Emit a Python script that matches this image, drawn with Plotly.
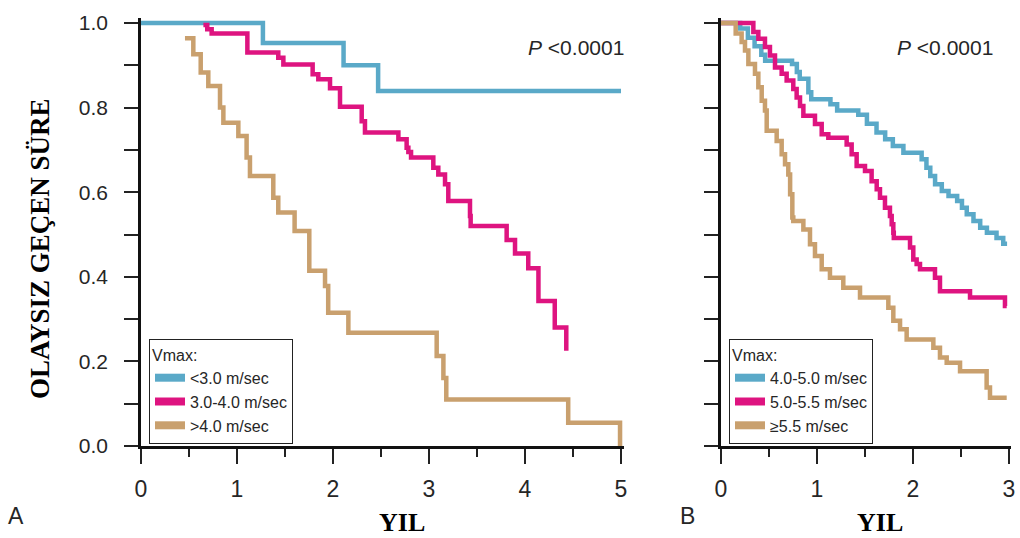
import plotly.graph_objects as go

# ---------------- Data ----------------
# Panel A
a_low_t = [0, 1.27, 2.11, 2.47, 5.0]
a_low_s = [1.0, 0.953, 0.90, 0.839, 0.839]

a_mid_t = [0.65, 0.69, 0.736, 1.108, 1.43, 1.483, 1.788, 1.847, 1.969, 2.073, 2.299, 2.333,
           2.681, 2.767, 2.785, 2.813, 3.045, 3.097, 3.167, 3.201, 3.427, 3.434, 3.809,
           3.896, 4.034, 4.14, 4.31, 4.43]
a_mid_s = [0.995, 0.985, 0.975, 0.930, 0.918, 0.902, 0.879, 0.867, 0.846, 0.802, 0.768, 0.741,
           0.725, 0.705, 0.695, 0.682, 0.658, 0.642, 0.619, 0.579, 0.544, 0.520, 0.487,
           0.455, 0.420, 0.343, 0.280, 0.225]

a_high_t = [0.458, 0.545, 0.622, 0.701, 0.823, 0.858, 1.014, 1.10, 1.135, 1.378, 1.43, 1.60,
            1.753, 1.917, 1.95, 2.16, 3.08, 3.15, 3.18, 4.45, 4.99]
a_high_s = [0.964, 0.926, 0.883, 0.851, 0.800, 0.764, 0.733, 0.682, 0.638, 0.587, 0.552, 0.508,
            0.414, 0.378, 0.315, 0.268, 0.213, 0.161, 0.110, 0.055, 0.0]

# Panel B
b_low_t = [0, 0.20, 0.28, 0.35, 0.42, 0.46, 0.74, 0.79, 0.82, 0.91, 0.94, 1.14, 1.21, 1.43,
           1.52, 1.62, 1.71, 1.79, 1.90, 2.09, 2.14, 2.18, 2.23, 2.30, 2.37, 2.46, 2.51, 2.56,
           2.63, 2.70, 2.77, 2.87, 2.94, 2.98]
b_low_s = [1.0, 0.987, 0.965, 0.945, 0.925, 0.911, 0.903, 0.884, 0.868, 0.836, 0.820, 0.808,
           0.793, 0.783, 0.762, 0.741, 0.725, 0.709, 0.693, 0.678, 0.658, 0.638, 0.619, 0.603,
           0.591, 0.579, 0.563, 0.548, 0.532, 0.516, 0.504, 0.492, 0.478, 0.478]

b_mid_t = [0, 0.337, 0.389, 0.458, 0.51, 0.5625, 0.632, 0.684, 0.753, 0.788, 0.823, 0.858,
           0.979, 1.049, 1.118, 1.309, 1.361, 1.413, 1.50, 1.569, 1.622, 1.656, 1.708, 1.76,
           1.778, 1.795, 1.80, 1.969, 2.003, 2.038, 2.073, 2.229, 2.281, 2.594, 2.958, 2.976]
b_mid_s = [1.0, 0.979, 0.963, 0.943, 0.923, 0.895, 0.880, 0.864, 0.844, 0.824, 0.804, 0.781,
           0.761, 0.737, 0.729, 0.713, 0.690, 0.662, 0.650, 0.626, 0.607, 0.587, 0.563, 0.544,
           0.524, 0.504, 0.492, 0.469, 0.441, 0.430, 0.418, 0.398, 0.366, 0.351, 0.331, 0.331]

b_high_t = [0, 0.153, 0.215, 0.25, 0.285, 0.354, 0.389, 0.424, 0.458, 0.476, 0.58, 0.632,
            0.667, 0.701, 0.72, 0.743, 0.753, 0.858, 0.927, 0.979, 1.049, 1.135, 1.274, 1.448,
            1.743, 1.795, 1.865, 1.934, 2.212, 2.281, 2.351, 2.49, 2.767, 2.802, 2.976]
b_high_s = [1.0, 0.975, 0.955, 0.935, 0.903, 0.880, 0.848, 0.816, 0.793, 0.745, 0.721, 0.690,
            0.666, 0.642, 0.595, 0.540, 0.532, 0.512, 0.477, 0.449, 0.418, 0.398, 0.374, 0.351,
            0.327, 0.296, 0.276, 0.252, 0.232, 0.209, 0.197, 0.177, 0.138, 0.114, 0.114]

labels_a = ["<3.0 m/sec", "3.0-4.0 m/sec", ">4.0 m/sec"]
labels_b = ["4.0-5.0 m/sec", "5.0-5.5 m/sec", "≥5.5 m/sec"]
y_title = "OLAYSIZ GEÇEN SÜRE"
x_title = "YIL"
p_text = "<i>P</i> <0.0001"

# ---------------- Styling ----------------
BLUE = "#5aa9c8"
PINK = "#de1480"
TAN = "#c9a06e"
colors = [BLUE, PINK, TAN]
LW = 4.5
SANS = "Liberation Sans, Arial, sans-serif"
SERIF = "Liberation Serif, Times New Roman, serif"
TXT = "#262626"

W, H = 1020, 538

def px_x(p):
    return p / W

def px_y(p):
    return 1 - p / H

fig = go.Figure()

series_a = [(a_low_t, a_low_s), (a_mid_t, a_mid_s), (a_high_t, a_high_s)]
series_b = [(b_low_t, b_low_s), (b_mid_t, b_mid_s), (b_high_t, b_high_s)]

for (t, s), c in zip(series_a, colors):
    fig.add_trace(go.Scatter(x=t, y=s, mode="lines", line=dict(color=c, width=LW, shape="hv"),
                             xaxis="x", yaxis="y", showlegend=False, hoverinfo="skip"))
for (t, s), c in zip(series_b, colors):
    fig.add_trace(go.Scatter(x=t, y=s, mode="lines", line=dict(color=c, width=LW, shape="hv"),
                             xaxis="x2", yaxis="y2", showlegend=False, hoverinfo="skip"))

# legend entries
for name, c in zip(labels_a, colors):
    fig.add_trace(go.Scatter(x=[None], y=[None], mode="lines", line=dict(color=c, width=8),
                             name=name, legend="legend", xaxis="x", yaxis="y"))
for name, c in zip(labels_b, colors):
    fig.add_trace(go.Scatter(x=[None], y=[None], mode="lines", line=dict(color=c, width=8),
                             name=name, legend="legend2", xaxis="x2", yaxis="y2"))

# axis geometry (pixels): x=0 at 141 (A) / 721 (B), 96 px per year; y=0 at 445, y=1 at 22
xa_rng = [0, 5.03]
xb_rng = [0, 3.02]
y_rng = [0, 1.012]
ppx = 96.0
ppy = 423.0
xa_dom = [px_x(141), px_x(141 + xa_rng[1] * ppx)]
xb_dom = [px_x(721), px_x(721 + xb_rng[1] * ppx)]
y_dom = [px_y(446), px_y(446 - y_rng[1] * ppy)]

common_x = dict(showgrid=False, zeroline=False, showline=True, linecolor="#111", linewidth=2.5,
                ticks="outside", ticklen=15, tickwidth=1.5, tickcolor="#222", dtick=1, tick0=0,
                minor=dict(dtick=0.5, ticks="outside", ticklen=8, tickwidth=1.5, tickcolor="#222"),
                tickfont=dict(family=SANS, size=23, color=TXT), ticklabelstandoff=6,
                automargin=False, fixedrange=True)
common_y = dict(showgrid=False, zeroline=False, showline=True, linecolor="#111", linewidth=2.5,
                ticks="outside", ticklen=14, tickwidth=1.5, tickcolor="#222", dtick=0.2, tick0=0,
                tickformat=".1f",
                minor=dict(dtick=0.1, ticks="outside", ticklen=14, tickwidth=1.5, tickcolor="#222"),
                tickfont=dict(family=SANS, size=21, color=TXT), ticklabelstandoff=12,
                automargin=False, fixedrange=True, range=y_rng, domain=y_dom)

legend_common = dict(yanchor="top", xanchor="left", bgcolor="white", bordercolor="#222",
                     borderwidth=1, font=dict(family=SANS, size=16, color=TXT), itemwidth=30,
                     title=dict(text="Vmax:", font=dict(family=SANS, size=16, color=TXT)),
                     tracegroupgap=0)

fig.update_layout(
    width=W, height=H,
    margin=dict(l=0, r=0, t=0, b=0),
    paper_bgcolor="white", plot_bgcolor="white",
    xaxis=dict(common_x, range=xa_rng, domain=xa_dom, anchor="y"),
    yaxis=dict(common_y, anchor="x"),
    xaxis2=dict(common_x, range=xb_rng, domain=xb_dom, anchor="y2"),
    yaxis2=dict(common_y, anchor="x2", showticklabels=False),
    legend=dict(legend_common, x=px_x(149), y=px_y(339)),
    legend2=dict(legend_common, x=px_x(729), y=px_y(339)),
)

ann = [
    dict(text=p_text, x=px_x(626), y=px_y(48), xanchor="right", yanchor="middle",
         font=dict(family=SANS, size=21, color=TXT)),
    dict(text=p_text, x=px_x(995), y=px_y(48), xanchor="right", yanchor="middle",
         font=dict(family=SANS, size=21, color=TXT)),
    dict(text="<b>" + y_title + "</b>", x=px_x(40), y=px_y(249), textangle=-90,
         xanchor="center", yanchor="middle", font=dict(family=SERIF, size=27, color="#000")),
    dict(text="<b>" + x_title + "</b>", x=px_x(402), y=px_y(522), xanchor="center",
         yanchor="middle", font=dict(family=SERIF, size=26, color="#000")),
    dict(text="<b>" + x_title + "</b>", x=px_x(880), y=px_y(522), xanchor="center",
         yanchor="middle", font=dict(family=SERIF, size=26, color="#000")),
    dict(text="A", x=px_x(16), y=px_y(516), xanchor="center", yanchor="middle",
         font=dict(family=SANS, size=23, color=TXT)),
    dict(text="B", x=px_x(687), y=px_y(516), xanchor="center", yanchor="middle",
         font=dict(family=SANS, size=23, color=TXT)),
]
for a in ann:
    a.update(xref="paper", yref="paper", showarrow=False)
fig.update_layout(annotations=ann)

fig.write_html("out.html", config={"displayModeBar": False})
